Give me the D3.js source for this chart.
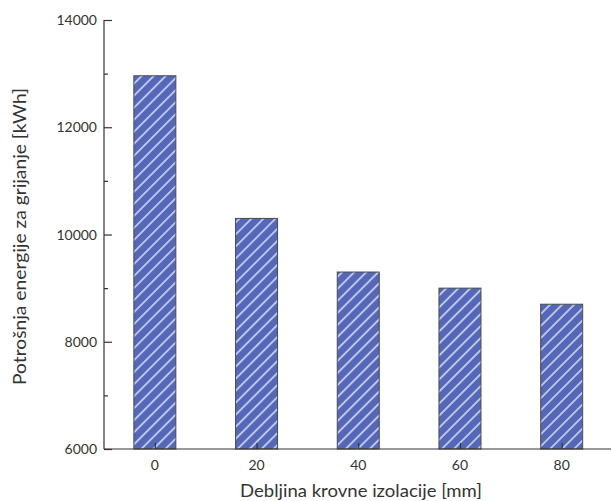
<!DOCTYPE html>
<html><head><meta charset="utf-8">
<script src="https://cdn.jsdelivr.net/npm/d3@7"></script>
<style>body{margin:0;background:#fff}svg{display:block}text{font-family:Lato,"Open Sans",sans-serif}</style>
</head><body><svg id="c" width="611" height="501"></svg>
<script>
const categories = [0, 20, 40, 60, 80];
const values = [12960, 10300, 9300, 9000, 8700];
const yTicks = [6000, 8000, 10000, 12000, 14000];
const yMinorTicks = [7000, 9000, 11000, 13000];
const xLabel = "Debljina krovne izolacije [mm]";
const yLabel = "Potrošnja energije za grijanje [kWh]";

const svg = d3.select("#c");
const L = 104, R = 611, T = 20, B = 449;
const x = d3.scaleLinear().domain([-10, 89.7]).range([L, R]);
const y = d3.scaleLinear().domain([6000, 14000]).range([B, T]);
const barW = 42;

const defs = svg.append("defs");
const pat = defs.append("pattern").attr("id", "hatch").attr("patternUnits", "userSpaceOnUse")
  .attr("width", 8.5).attr("height", 8.5).attr("patternTransform", "rotate(45)");
pat.append("rect").attr("width", 8.5).attr("height", 8.5).attr("fill", "#5567b9");
pat.append("rect").attr("x", 0).attr("width", 1.8).attr("height", 8.5).attr("fill", "#c3cbec");

svg.append("g").selectAll("rect").data(categories).join("rect")
  .attr("x", (d) => x(d) - barW / 2)
  .attr("y", (d, i) => y(values[i]))
  .attr("width", barW)
  .attr("height", (d, i) => B - y(values[i]))
  .attr("fill", "url(#hatch)")
  .attr("stroke", "#4a4a4a").attr("stroke-width", 1);

// y axis
const gy = svg.append("g").attr("transform", `translate(${L},0)`)
  .call(d3.axisRight(y).tickValues(yTicks).tickSize(8).tickFormat(d3.format("d")));
gy.selectAll("text").remove();
gy.select(".domain").attr("d", `M0,${T}V${B}`);
svg.append("g").attr("transform", `translate(${L},0)`)
  .call(d3.axisRight(y).tickValues(yMinorTicks).tickSize(4).tickFormat(""))
  .select(".domain").remove();
svg.append("g").selectAll("text").data(yTicks).join("text")
  .attr("x", L - 7).attr("y", (d) => y(d)).attr("dy", "0.36em")
  .attr("text-anchor", "end").attr("font-size", 14).attr("fill", "#333")
  .text((d) => d);

// x axis
const gx = svg.append("g").attr("transform", `translate(0,${B})`)
  .call(d3.axisTop(x).tickValues(categories).tickSize(6).tickFormat(""));
gx.select(".domain").attr("d", `M${L},0H${R}`);
svg.append("g").selectAll("text").data(categories).join("text")
  .attr("x", (d) => x(d)).attr("y", B + 21)
  .attr("text-anchor", "middle").attr("font-size", 14).attr("fill", "#333")
  .text((d) => d);

svg.selectAll(".domain, .tick line").attr("stroke", "#333").attr("stroke-width", 1.2);

svg.append("text").attr("x", 361).attr("y", 497).attr("text-anchor", "middle")
  .attr("font-size", 18).attr("fill", "#333")
  .attr("textLength", 242).attr("lengthAdjust", "spacingAndGlyphs").text(xLabel);
svg.append("text").attr("transform", "translate(26,236.5) rotate(-90)").attr("text-anchor", "middle")
  .attr("font-size", 18).attr("fill", "#333")
  .attr("textLength", 297).attr("lengthAdjust", "spacingAndGlyphs").text(yLabel);
</script></body></html>
